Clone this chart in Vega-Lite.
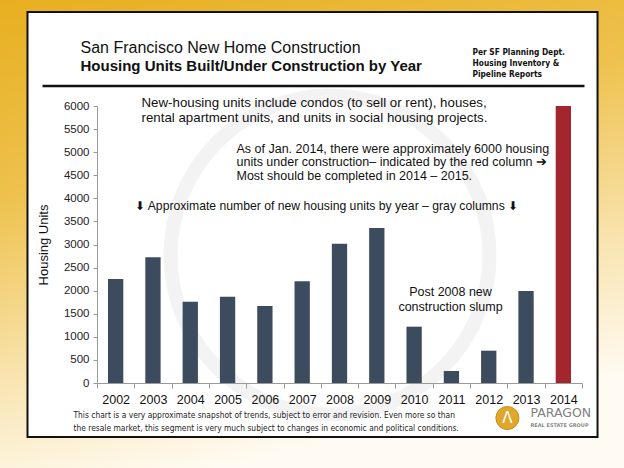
{
  "$schema": "https://vega.github.io/schema/vega-lite/v6.json",
  "width": 485,
  "height": 277,
  "autosize": {"type": "none"},
  "padding": {"left": 97, "top": 106, "right": 42, "bottom": 85},
  "background": "#F3D27A",
  "config": {"view": {"stroke": null}, "font": "Liberation Sans"},
  "resolve": {"scale": {"x": "independent", "y": "independent"}, "axis": {"x": "independent", "y": "independent"}},
  "layer": [
    {
      "data": {"values": [{"x0": 1998.7, "x1": 2015.8, "y0": -2000, "y1": 8450}]},
      "mark": {"type": "rect", "clip": false, "fill": {"gradient": "linear", "x1": 0, "y1": 0, "x2": 0.3, "y2": 1, "stops": [{"offset": 0, "color": "#E7AE1E"}, {"offset": 0.4, "color": "#EEC24E"}, {"offset": 0.75, "color": "#F9E5B3"}, {"offset": 1, "color": "#FFFBF2"}]}},
      "encoding": {
        "x": {"field": "x0", "type": "quantitative", "scale": {"domain": [2001.5, 2014.5], "nice": false, "zero": false}, "axis": null},
        "x2": {"field": "x1"},
        "y": {"field": "y0", "type": "quantitative", "scale": {"domain": [0, 6000], "nice": false, "zero": false}, "axis": null},
        "y2": {"field": "y1"}
      }
    },
    {
      "data": {"values": [{"x0": 1999.637, "x1": 2014.916, "y0": -1170, "y1": 8036}]},
      "mark": {"type": "rect", "clip": false, "fill": "#FFFFFF", "stroke": "#111111", "strokeWidth": 2},
      "encoding": {
        "x": {"field": "x0", "type": "quantitative", "scale": {"domain": [2001.5, 2014.5], "nice": false, "zero": false}, "axis": null},
        "x2": {"field": "x1"},
        "y": {"field": "y0", "type": "quantitative", "scale": {"domain": [0, 6000], "nice": false, "zero": false}, "axis": null},
        "y2": {"field": "y1"}
      }
    },
    {
      "data": {"values": [{"x": 2007.745, "y": 2773}]},
      "mark": {"type": "point", "clip": false, "shape": "circle", "filled": false, "stroke": "#F3F3F3", "strokeWidth": 14, "size": 101788, "opacity": 1},
      "encoding": {
        "x": {"field": "x", "type": "quantitative", "scale": {"domain": [2001.5, 2014.5], "nice": false, "zero": false}, "axis": null},
        "y": {"field": "y", "type": "quantitative", "scale": {"domain": [0, 6000], "nice": false, "zero": false}, "axis": null}
      }
    },
    {
      "data": {"values": [
        {"year": "2002", "units": 2254, "status": "Built"},
        {"year": "2003", "units": 2723, "status": "Built"},
        {"year": "2004", "units": 1761, "status": "Built"},
        {"year": "2005", "units": 1870, "status": "Built"},
        {"year": "2006", "units": 1668, "status": "Built"},
        {"year": "2007", "units": 2203, "status": "Built"},
        {"year": "2008", "units": 3018, "status": "Built"},
        {"year": "2009", "units": 3357, "status": "Built"},
        {"year": "2010", "units": 1220, "status": "Built"},
        {"year": "2011", "units": 260, "status": "Built"},
        {"year": "2012", "units": 700, "status": "Built"},
        {"year": "2013", "units": 1993, "status": "Built"},
        {"year": "2014", "units": 6000, "status": "Under construction"}
      ]},
      "mark": {"type": "bar", "width": {"band": 0.41}},
      "encoding": {
        "x": {"field": "year", "type": "ordinal", "scale": {"paddingInner": 0, "paddingOuter": 0},
          "axis": {"zindex": 1, "title": null, "labelAngle": 0, "labelFontSize": 12.5, "labelColor": "#111111", "tickBand": "extent", "tickSize": 5, "tickColor": "#9A9A9A", "domainColor": "#9A9A9A", "labelPadding": 5}},
        "y": {"field": "units", "type": "quantitative", "scale": {"domain": [0, 6000], "nice": false, "zero": false},
          "axis": {"zindex": 1, "title": "Housing Units", "format": "d", "titleFontSize": 13, "titleFontWeight": "normal", "titleColor": "#111111", "titlePadding": 13, "values": [0, 500, 1000, 1500, 2000, 2500, 3000, 3500, 4000, 4500, 5000, 5500, 6000], "labelFontSize": 11.5, "labelColor": "#222222", "tickSize": 4, "tickColor": "#9A9A9A", "domainColor": "#9A9A9A", "grid": false, "labelPadding": 4}},
        "color": {"field": "status", "type": "nominal", "scale": {"domain": ["Built", "Under construction"], "range": ["#3C4B5E", "#A3262E"]}, "legend": null}
      }
    },
    {
      "data": {"values": [{"x": 2000.039, "x2": 2014.567, "y": 6433}]},
      "mark": {"type": "rule", "clip": false, "color": "#111111", "strokeWidth": 2.5},
      "encoding": {
        "x": {"field": "x", "type": "quantitative", "scale": {"domain": [2001.5, 2014.5], "nice": false, "zero": false}, "axis": null},
        "x2": {"field": "x2"},
        "y": {"field": "y", "type": "quantitative", "scale": {"domain": [0, 6000], "nice": false, "zero": false}, "axis": null}
      }
    },
    {
      "data": {"values": [{"x": 2001.058, "y": 7148, "label": "San Francisco New Home Construction"}]},
      "mark": {"type": "text", "clip": false, "align": "left", "baseline": "alphabetic", "fontSize": 16, "color": "#111111", "font": "Liberation Sans"},
      "encoding": {
        "x": {"field": "x", "type": "quantitative", "scale": {"domain": [2001.5, 2014.5], "nice": false, "zero": false}, "axis": null},
        "y": {"field": "y", "type": "quantitative", "scale": {"domain": [0, 6000], "nice": false, "zero": false}, "axis": null},
        "text": {"field": "label"}
      }
    },
    {
      "data": {"values": [{"x": 2001.058, "y": 6758, "label": "Housing Units Built/Under Construction by Year"}]},
      "mark": {"type": "text", "clip": false, "align": "left", "baseline": "alphabetic", "fontSize": 15, "fontWeight": "bold", "color": "#111111", "font": "Liberation Sans"},
      "encoding": {
        "x": {"field": "x", "type": "quantitative", "scale": {"domain": [2001.5, 2014.5], "nice": false, "zero": false}, "axis": null},
        "y": {"field": "y", "type": "quantitative", "scale": {"domain": [0, 6000], "nice": false, "zero": false}, "axis": null},
        "text": {"field": "label"}
      }
    },
    {
      "data": {"values": [{"x": 2011.565, "y": 7105, "label": "Per SF Planning Dept.\nHousing Inventory  &\nPipeline Reports"}]},
      "mark": {"type": "text", "clip": false, "align": "left", "baseline": "alphabetic", "fontSize": 8.3, "fontWeight": "bold", "color": "#111111", "font": "Liberation Sans Narrow, DejaVu Sans Condensed, sans-serif", "lineBreak": "\n", "lineHeight": 11},
      "encoding": {
        "x": {"field": "x", "type": "quantitative", "scale": {"domain": [2001.5, 2014.5], "nice": false, "zero": false}, "axis": null},
        "y": {"field": "y", "type": "quantitative", "scale": {"domain": [0, 6000], "nice": false, "zero": false}, "axis": null},
        "text": {"field": "label"}
      }
    },
    {
      "data": {"values": [{"x": 2002.693, "y": 5968, "label": "New-housing units include condos (to sell or rent), houses,\nrental apartment units, and units in social housing projects."}]},
      "mark": {"type": "text", "clip": false, "align": "left", "baseline": "alphabetic", "fontSize": 13.3, "color": "#111111", "font": "Liberation Sans", "lineBreak": "\n", "lineHeight": 15},
      "encoding": {
        "x": {"field": "x", "type": "quantitative", "scale": {"domain": [2001.5, 2014.5], "nice": false, "zero": false}, "axis": null},
        "y": {"field": "y", "type": "quantitative", "scale": {"domain": [0, 6000], "nice": false, "zero": false}, "axis": null},
        "text": {"field": "label"}
      }
    },
    {
      "data": {"values": [{"x": 2005.239, "y": 4982, "label": "As of Jan. 2014, there were approximately 6000 housing\nunits under construction– indicated by the red column ➔\nMost should be completed in 2014 – 2015."}]},
      "mark": {"type": "text", "clip": false, "align": "left", "baseline": "alphabetic", "fontSize": 12.5, "color": "#111111", "font": "Liberation Sans", "lineBreak": "\n", "lineHeight": 13.4},
      "encoding": {
        "x": {"field": "x", "type": "quantitative", "scale": {"domain": [2001.5, 2014.5], "nice": false, "zero": false}, "axis": null},
        "y": {"field": "y", "type": "quantitative", "scale": {"domain": [0, 6000], "nice": false, "zero": false}, "axis": null},
        "text": {"field": "label"}
      }
    },
    {
      "data": {"values": [{"x": 2002.519, "y": 3737, "label": "⬇ Approximate number of new housing units by year – gray columns ⬇"}]},
      "mark": {"type": "text", "clip": false, "align": "left", "baseline": "alphabetic", "fontSize": 12.2, "color": "#111111", "font": "Liberation Sans"},
      "encoding": {
        "x": {"field": "x", "type": "quantitative", "scale": {"domain": [2001.5, 2014.5], "nice": false, "zero": false}, "axis": null},
        "y": {"field": "y", "type": "quantitative", "scale": {"domain": [0, 6000], "nice": false, "zero": false}, "axis": null},
        "text": {"field": "label"}
      }
    },
    {
      "data": {"values": [{"x": 2010.975, "y": 1885, "label": "Post 2008 new\nconstruction slump"}]},
      "mark": {"type": "text", "clip": false, "align": "center", "baseline": "alphabetic", "fontSize": 12.5, "color": "#111111", "font": "Liberation Sans", "lineBreak": "\n", "lineHeight": 15.5},
      "encoding": {
        "x": {"field": "x", "type": "quantitative", "scale": {"domain": [2001.5, 2014.5], "nice": false, "zero": false}, "axis": null},
        "y": {"field": "y", "type": "quantitative", "scale": {"domain": [0, 6000], "nice": false, "zero": false}, "axis": null},
        "text": {"field": "label"}
      }
    },
    {
      "data": {"values": [{"x": 2000.87, "y": -758, "label": "This chart is a very approximate snapshot of trends, subject to error and revision.  Even more so than\nthe resale market, this segment is very much subject to changes in economic and political conditions."}]},
      "mark": {"type": "text", "clip": false, "align": "left", "baseline": "alphabetic", "fontSize": 8.4, "color": "#222222", "font": "Liberation Sans Narrow, DejaVu Sans Condensed, sans-serif", "lineBreak": "\n", "lineHeight": 13},
      "encoding": {
        "x": {"field": "x", "type": "quantitative", "scale": {"domain": [2001.5, 2014.5], "nice": false, "zero": false}, "axis": null},
        "y": {"field": "y", "type": "quantitative", "scale": {"domain": [0, 6000], "nice": false, "zero": false}, "axis": null},
        "text": {"field": "label"}
      }
    },
    {
      "data": {"values": [{"x": 2012.5, "y": -758}]},
      "mark": {"type": "point", "clip": false, "shape": "circle", "filled": true, "fill": "#E0A82A", "stroke": "#C98E17", "strokeWidth": 1, "size": 530, "opacity": 1},
      "encoding": {
        "x": {"field": "x", "type": "quantitative", "scale": {"domain": [2001.5, 2014.5], "nice": false, "zero": false}, "axis": null},
        "y": {"field": "y", "type": "quantitative", "scale": {"domain": [0, 6000], "nice": false, "zero": false}, "axis": null}
      }
    },
    {
      "data": {"values": [{"x": 2012.5, "y": -758, "label": "Λ"}]},
      "mark": {"type": "text", "clip": false, "align": "center", "baseline": "middle", "fontSize": 15, "color": "#FFFFFF", "font": "DejaVu Sans"},
      "encoding": {
        "x": {"field": "x", "type": "quantitative", "scale": {"domain": [2001.5, 2014.5], "nice": false, "zero": false}, "axis": null},
        "y": {"field": "y", "type": "quantitative", "scale": {"domain": [0, 6000], "nice": false, "zero": false}, "axis": null},
        "text": {"field": "label"}
      }
    },
    {
      "data": {"values": [{"x": 2013.119, "y": -736, "label": "PARAGON"}]},
      "mark": {"type": "text", "clip": false, "align": "left", "baseline": "alphabetic", "fontSize": 12.5, "color": "#7F7F7F", "font": "DejaVu Sans"},
      "encoding": {
        "x": {"field": "x", "type": "quantitative", "scale": {"domain": [2001.5, 2014.5], "nice": false, "zero": false}, "axis": null},
        "y": {"field": "y", "type": "quantitative", "scale": {"domain": [0, 6000], "nice": false, "zero": false}, "axis": null},
        "text": {"field": "label"}
      }
    },
    {
      "data": {"values": [{"x": 2013.119, "y": -953, "label": "REAL ESTATE GROUP"}]},
      "mark": {"type": "text", "clip": false, "align": "left", "baseline": "alphabetic", "fontSize": 5, "fontWeight": "bold", "color": "#8A8A8A", "font": "DejaVu Sans"},
      "encoding": {
        "x": {"field": "x", "type": "quantitative", "scale": {"domain": [2001.5, 2014.5], "nice": false, "zero": false}, "axis": null},
        "y": {"field": "y", "type": "quantitative", "scale": {"domain": [0, 6000], "nice": false, "zero": false}, "axis": null},
        "text": {"field": "label"}
      }
    }
  ]
}
